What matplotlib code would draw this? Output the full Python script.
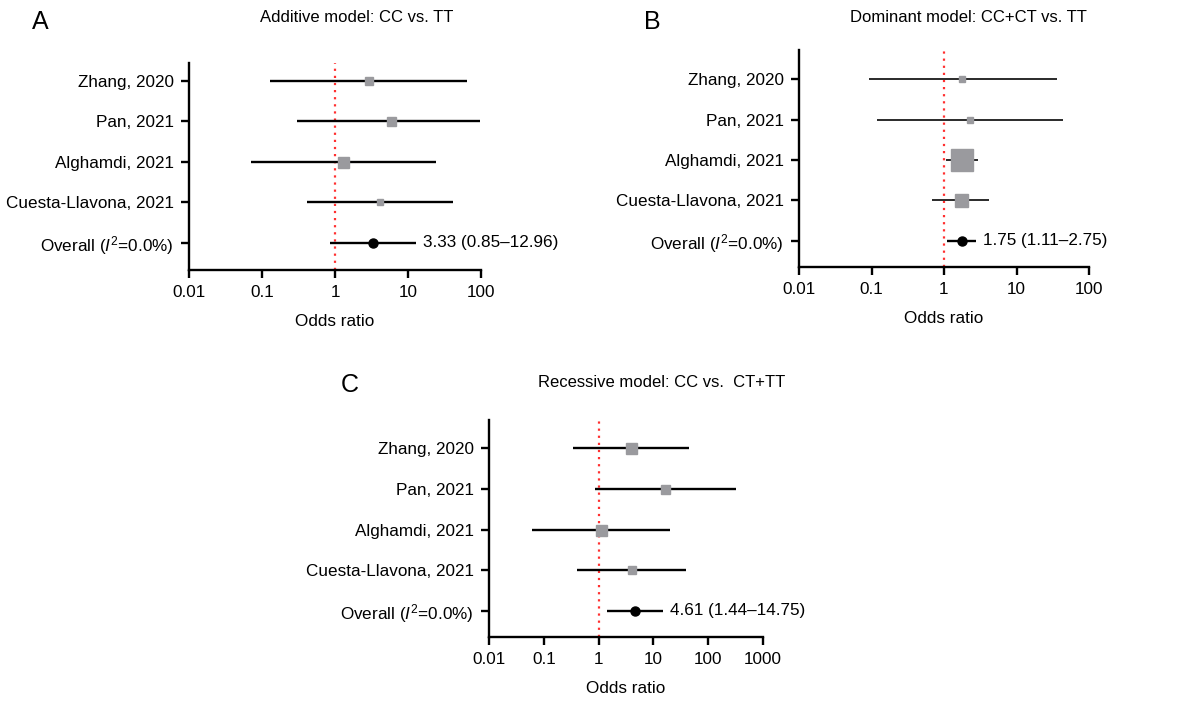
import matplotlib
matplotlib.use("Agg")
import matplotlib.pyplot as plt
import numpy as np

plt.rcParams['font.family'] = ['Liberation Sans', 'DejaVu Sans']
plt.rcParams['mathtext.fontset'] = 'custom'
plt.rcParams['mathtext.rm'] = 'Liberation Sans'
plt.rcParams['mathtext.it'] = 'Liberation Sans:italic'

# ---------------- data ----------------
studies = ["Zhang, 2020", "Pan, 2021", "Alghamdi, 2021", "Cuesta-Llavona, 2021"]
overall_label = r"Overall ($I^{2}$=0.0%)"

titles = ["Additive model: CC vs. TT",
          "Dominant model: CC+CT vs. TT",
          "Recessive model: CC vs.  CT+TT"]
letters = ["A", "B", "C"]

# Additive model
a_or = [2.9, 5.8, 1.29, 4.1]
a_lo = [0.13, 0.30, 0.07, 0.42]
a_hi = [64, 98, 24, 42]
a_w = [8.5, 9, 11, 6]          # relative study weight (marker side)
a_overall = [3.33, 0.85, 12.96]

# Dominant model
b_or = [1.75, 2.28, 1.79, 1.70]
b_lo = [0.091, 0.12, 1.07, 0.68]
b_hi = [36, 44, 2.98, 4.17]
b_w = [6, 6, 22, 13]
b_overall = [1.75, 1.11, 2.75]

# Recessive model
c_or = [3.9, 16.6, 1.12, 4.05]
c_lo = [0.345, 0.86, 0.06, 0.41]
c_hi = [45, 318, 20.5, 39]
c_w = [11, 9, 11, 8]
c_overall = [4.61, 1.44, 14.75]

xticks_ab = [0.01, 0.1, 1, 10, 100]
xticks_c = [0.01, 0.1, 1, 10, 100, 1000]

# ---------------- layout ----------------
W, H = 1177, 703
fig = plt.figure(figsize=(W / 100, H / 100), dpi=100)
FS = 12.3


def px_axes(left, right, top, bottom):
    return fig.add_axes([left / W, 1 - bottom / H, (right - left) / W, (bottom - top) / H])


def forest(ax, ors, los, his, ws, overall, xticks, ylim, line_color, lw):
    n = len(studies)
    ys = np.arange(n + 1, 1, -1)  # 5,4,3,2
    ax.set_xscale('log')
    ax.set_xlim(xticks[0], xticks[-1])
    ax.set_ylim(*ylim)
    ax.axvline(1, color='#ff3030', linestyle=(0, (1, 2.2)), lw=1.6, zorder=1)
    for y, o, lo, hi, w in zip(ys, ors, los, his, ws):
        ax.plot([lo, hi], [y, y], color=line_color, lw=lw, solid_capstyle='butt', zorder=2)
        ax.plot([o], [y], marker='s', ms=w * 0.72, color='#9a9a9e', mec='#9a9a9e', zorder=3)
    est, lo, hi = overall
    ax.plot([lo, hi], [1, 1], color='black', lw=1.7, solid_capstyle='butt', zorder=2)
    ax.plot([est], [1], marker='o', ms=6.5, color='black', zorder=3)
    ax.annotate(f"{est:.2f} ({lo:.2f}\u2013{hi:.2f})", xy=(hi, 1), xytext=(5, 0),
                textcoords='offset points', va='center', ha='left', fontsize=FS)
    ax.set_yticks(list(ys) + [1])
    ax.set_yticklabels(studies + [overall_label], fontsize=FS)
    ax.set_xticks(xticks)
    ax.set_xticklabels([f"{t:g}" for t in xticks], fontsize=FS)
    ax.minorticks_off()
    for s in ['top', 'right']:
        ax.spines[s].set_visible(False)
    for s in ['left', 'bottom']:
        ax.spines[s].set_linewidth(1.7)
    ax.tick_params(axis='both', width=1.7, length=6, pad=5, colors='black')
    ax.set_xlabel("Odds ratio", fontsize=FS, labelpad=10)


axA = px_axes(189, 481, 63, 270)
forest(axA, a_or, a_lo, a_hi, a_w, a_overall, xticks_ab, (0.333, 5.44), 'black', 1.7)
axB = px_axes(799, 1089, 50, 267)
forest(axB, b_or, b_lo, b_hi, b_w, b_overall, xticks_ab, (0.35, 5.72), '#2a2a2a', 1.4)
axC = px_axes(489, 763, 420, 637)
forest(axC, c_or, c_lo, c_hi, c_w, c_overall, xticks_c, (0.36, 5.70), 'black', 1.7)

title_pos = [(357, 17), (968, 17), (662, 382)]
letter_pos = [(40, 22), (652, 22), (350, 385)]
for t, (x, y) in zip(titles, title_pos):
    fig.text(x / W, 1 - y / H, t, ha='center', va='center', fontsize=12)
for l, (x, y) in zip(letters, letter_pos):
    fig.text(x / W, 1 - y / H, l, ha='center', va='center', fontsize=18)

fig.savefig("out.png", dpi=100)
